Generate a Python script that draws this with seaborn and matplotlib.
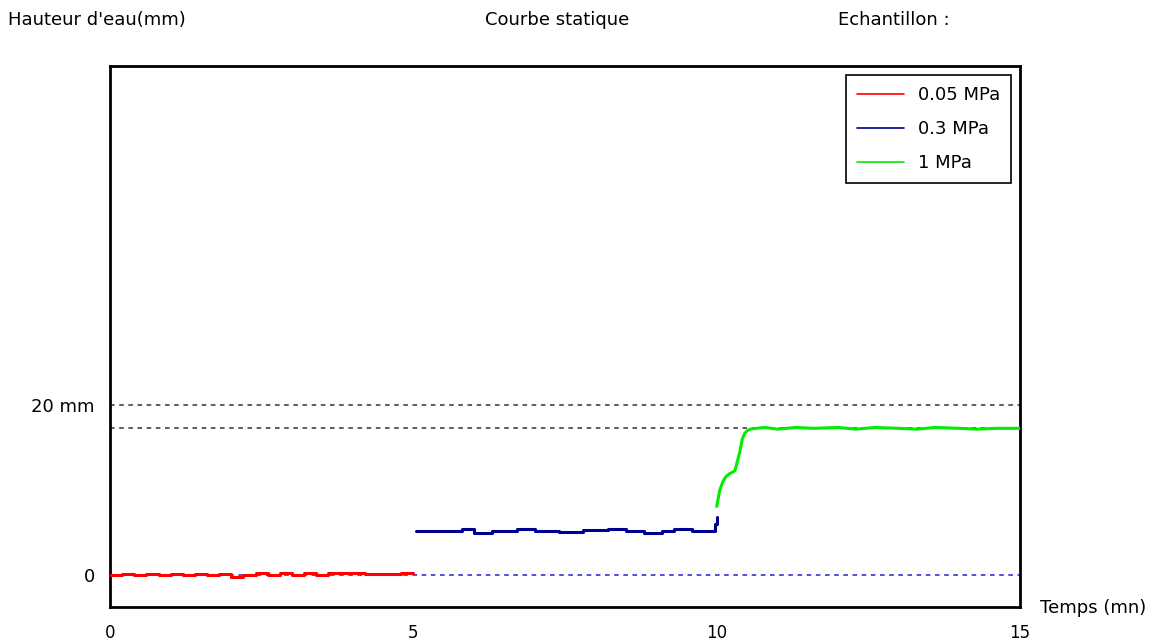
"""
Courbe statique : hauteur d'eau (mm) en fonction du temps (mn)
pour trois paliers de pression. Sauvegarde dans out.png.
"""

import matplotlib
matplotlib.use("Agg")
import matplotlib.pyplot as plt
import seaborn as sns

# Palier 0.05 MPa (0 -> 5 mn)
red_t = [0.0, 0.2, 0.4, 0.6, 0.8, 1.0, 1.2, 1.4, 1.6, 1.8, 2.0, 2.2, 2.4,
         2.6, 2.8, 3.0, 3.2, 3.4, 3.6, 3.8, 4.0, 4.2, 4.4, 4.6, 4.8, 5.0]
red_y = [0.0, 0.15, 0.0, 0.15, 0.0, 0.15, 0.0, 0.15, 0.0, 0.15, -0.2, 0.0, 0.2,
         0.0, 0.2, 0.0, 0.2, 0.0, 0.3, 0.3, 0.3, 0.1, 0.1, 0.1, 0.3, 0.3]

# Palier 0.3 MPa (5 -> 10 mn)
blue_t = [5.05, 5.4, 5.8, 6.0, 6.3, 6.7, 7.0, 7.4, 7.8, 8.2, 8.5,
          8.8, 9.1, 9.3, 9.6, 9.9, 9.97, 10.0]
blue_y = [5.2, 5.2, 5.4, 5.0, 5.2, 5.4, 5.2, 5.1, 5.3, 5.4, 5.2,
          5.0, 5.2, 5.4, 5.2, 5.2, 6.0, 6.9]

# Palier 1 MPa (10 -> 15 mn)
green_t = [10.0, 10.05, 10.1, 10.15, 10.2, 10.3, 10.38, 10.42, 10.46, 10.5,
           10.55, 10.65, 10.8, 11.0, 11.3, 11.6, 12.0, 12.3, 12.6, 13.0, 13.3,
           13.6, 14.0, 14.3, 14.6, 15.0]
green_y = [8.1, 10.0, 11.0, 11.6, 11.9, 12.3, 14.5, 16.0, 16.7, 17.0,
           17.2, 17.3, 17.4, 17.2, 17.4, 17.3, 17.4, 17.2, 17.4, 17.3, 17.2,
           17.4, 17.3, 17.2, 17.3, 17.3]

ref_levels = [20, 17.3]
x_ticks = [0, 5, 10, 15]

FS = 13


def main():
    sns.set_style("white")
    plt.rcParams["font.family"] = ["DejaVu Sans"]
    plt.rcParams["text.color"] = "black"

    fig = plt.figure(figsize=(11.63, 6.41), dpi=100)
    ax = fig.add_axes([0.0946, 0.053, 0.7825, 0.844])

    # Lignes de reference pointillees
    for lvl in ref_levels:
        ax.axhline(lvl, color="#333333", lw=1.1, ls=(0, (3, 3)), zorder=1)
    ax.axhline(0, color="#2020e0", lw=1.1, ls=(0, (3, 3)), zorder=1)

    sns.lineplot(x=red_t, y=red_y, ax=ax, color="#ff0000", lw=2.2,
                 drawstyle="steps-post", label="0.05 MPa", zorder=3)
    sns.lineplot(x=blue_t, y=blue_y, ax=ax, color="#000090", lw=2.2,
                 drawstyle="steps-post", label="0.3 MPa", zorder=3)
    sns.lineplot(x=green_t, y=green_y, ax=ax, color="#00ee00", lw=2.2,
                 label="1 MPa", zorder=3)

    ax.set_xlim(0, 15)
    ax.set_ylim(-3.76, 60)
    ax.set_xticks(x_ticks)
    ax.set_xticklabels([str(t) for t in x_ticks], fontsize=FS - 1)
    ax.set_yticks([0, 20])
    ax.set_yticklabels(["0", "20 mm"], fontsize=FS)
    ax.tick_params(axis="x", direction="out", length=11, width=2, pad=1, colors="black")
    ax.tick_params(axis="y", length=0, pad=11, labelcolor="black")
    for side in ax.spines.values():
        side.set_color("black")
        side.set_linewidth(2)
    ax.set_xlabel("")
    ax.set_ylabel("")

    leg = ax.legend(loc="upper right", fontsize=FS, fancybox=False,
                    framealpha=1, edgecolor="black", handlelength=2.6,
                    labelspacing=0.9, borderaxespad=0.5, borderpad=0.6,
                    labelcolor="black")
    leg.get_frame().set_linewidth(1.2)
    for line in leg.get_lines():
        line.set_linewidth(1.2)

    fig.text(8 / 1163, 1 - 20 / 641, "Hauteur d'eau(mm)", fontsize=FS, va="center")
    fig.text(485 / 1163, 1 - 20 / 641, "Courbe statique", fontsize=FS, va="center")
    fig.text(838 / 1163, 1 - 20 / 641, "Echantillon :", fontsize=FS, va="center")
    fig.text(1040 / 1163, 1 - 608 / 641, "Temps (mn)", fontsize=FS, va="center")

    fig.savefig("out.png", dpi=100)
    plt.close(fig)


if __name__ == "__main__":
    main()
